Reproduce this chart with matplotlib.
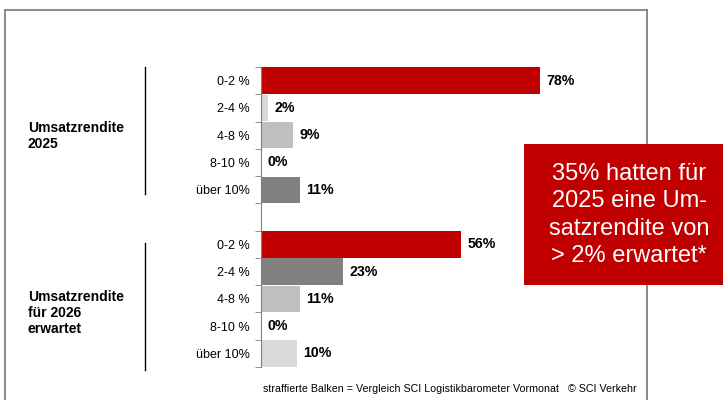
import matplotlib.pyplot as plt
from matplotlib.lines import Line2D
from matplotlib.patches import Rectangle

plt.rcParams['font.family'] = ['Liberation Sans', 'DejaVu Sans']

# Daten
kategorien = ["0-2 %", "2-4 %", "4-8 %", "8-10 %", "über 10%"]
werte_2025 = [78, 2, 9, 0, 11]
werte_2026 = [56, 23, 11, 0, 10]
farben_2025 = ["#C00000", "#D9D9D9", "#BFBFBF", "#BFBFBF", "#808080"]
farben_2026 = ["#C00000", "#808080", "#BFBFBF", "#BFBFBF", "#D9D9D9"]
gruppen = ["Umsatzrendite\n2025", "Umsatzrendite\nfür 2026\nerwartet"]
hinweis = "35% hatten für\n2025 eine Um-\nsatzrendite von\n> 2% erwartet*"
fussnote = "straffierte Balken = Vergleich SCI Logistikbarometer Vormonat   © SCI Verkehr"

W, H = 723, 400
fig = plt.figure(figsize=(W / 100, H / 100), dpi=100)

# Rahmen
grau = "#808080"
for xs, ys in [((5, 5), (0, 390)), ((5, 647), (390, 390)), ((647, 647), (390, 0))]:
    fig.add_artist(Line2D([x / W for x in xs], [y / H for y in ys], color=grau, lw=1.3, zorder=1))

ax = fig.add_axes([261 / W, 33 / H, 358 / W, 300 / H])
ax.set_zorder(2)
pos_2025 = list(range(5))
pos_2026 = [p + 6 for p in range(5)]
ax.barh(pos_2025, werte_2025, height=0.97, color=farben_2025)
ax.barh(pos_2026, werte_2026, height=0.97, color=farben_2026)
ax.set_xlim(0, 100)
ax.set_ylim(10.5, -0.5)
ax.patch.set_alpha(0)

for pos, werte in [(pos_2025, werte_2025), (pos_2026, werte_2026)]:
    for p, v in zip(pos, werte):
        ax.text(v + 1.7, p, f"{v}%", va="center", ha="left", fontsize=10.2, fontweight="bold")

ax.set_yticks(pos_2025 + pos_2026)
ax.set_yticklabels(kategorien + kategorien, fontsize=9)
ax.tick_params(axis="y", which="major", length=0, pad=8)
ax.set_yticks([i - 0.5 for i in range(12)], minor=True)
ax.tick_params(axis="y", which="minor", length=4, color=grau, direction="out")
ax.set_xticks([])
for s in ["top", "right", "bottom"]:
    ax.spines[s].set_visible(False)
ax.spines["left"].set_color(grau)

# Gruppen
fig.text(28 / W, 1 - 121 / H, gruppen[0], fontsize=10, fontweight="bold", va="top", ha="left", linespacing=1.2)
fig.text(28 / W, 1 - 290 / H, gruppen[1], fontsize=10, fontweight="bold", va="top", ha="left", linespacing=1.2)
fig.add_artist(Line2D([145 / W, 145 / W], [1 - 67 / H, 1 - 194 / H], color="black", lw=1))
fig.add_artist(Line2D([145 / W, 145 / W], [1 - 243 / H, 1 - 370 / H], color="black", lw=1))

# Hinweisbox
fig.add_artist(Rectangle((524 / W, 1 - 285 / H), 199 / W, 141 / H, transform=fig.transFigure,
                         facecolor="#C00000", edgecolor="none", zorder=5))
fig.text(629 / W, 1 - 215 / H, hinweis, color="white", fontsize=17, ha="center", va="center",
         linespacing=1.32, zorder=6)

fig.text(263 / W, 1 - 389 / H, fussnote, fontsize=7.7, ha="left", va="center")

fig.savefig("out.png", dpi=100)
